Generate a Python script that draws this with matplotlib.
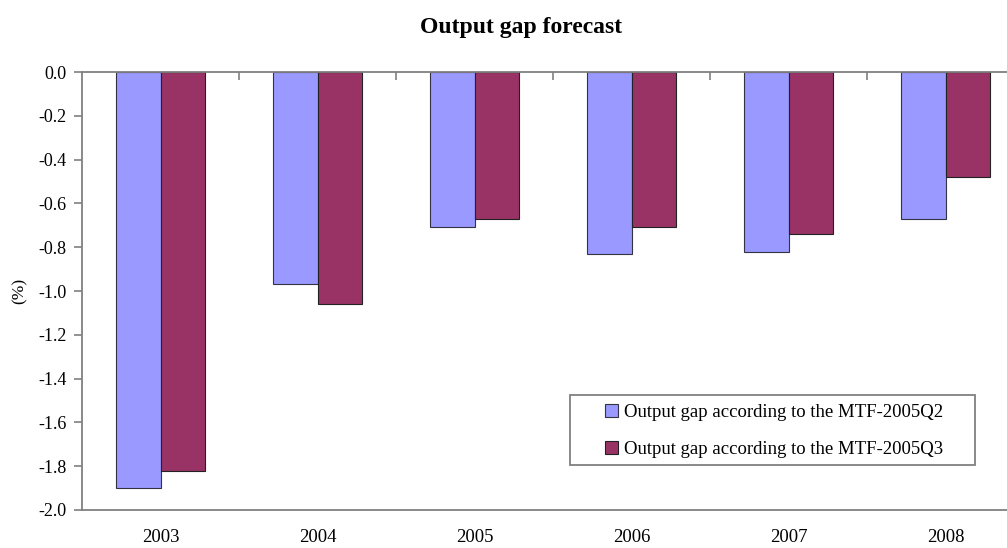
import numpy as np
import matplotlib.pyplot as plt
from matplotlib.patches import Rectangle

years = ['2003', '2004', '2005', '2006', '2007', '2008']
gap_q2 = [-1.90, -0.97, -0.71, -0.83, -0.82, -0.67]
gap_q3 = [-1.82, -1.06, -0.67, -0.71, -0.74, -0.48]
label_q2 = 'Output gap according to the MTF-2005Q2'
label_q3 = 'Output gap according to the MTF-2005Q3'

plt.rcParams['font.family'] = ['Liberation Serif', 'DejaVu Serif']

W, H = 1007, 548
fig = plt.figure(figsize=(W / 100, H / 100), dpi=100)
# plot area: left edge at 82px, top at 72px, bottom at 510px, runs past the right border
ax = fig.add_axes([82 / W, (H - 510) / H, (1024 - 82) / W, (510 - 72) / H])

x = np.arange(len(years))
bw = 0.285
ax.bar(x - bw / 2, gap_q2, bw, color='#9999ff', edgecolor='#333344', linewidth=0.8, label=label_q2)
ax.bar(x + bw / 2, gap_q3, bw, color='#993366', edgecolor='#222222', linewidth=0.8, label=label_q3)

ax.set_xlim(-0.5, len(years) - 0.5)
ax.set_ylim(-2.0, 0.0)
yt = np.round(np.arange(-2.0, 0.01, 0.2), 1)
ax.set_yticks(yt)
ax.set_yticklabels(['%.1f' % abs(v) if v == 0 else '%.1f' % v for v in yt], fontsize=13)

# category labels at the bottom, separator ticks on the zero line
ax.set_xticks(x)
ax.set_xticklabels(years, fontsize=13.5)
ax.tick_params(axis='x', length=0, pad=14)
ax.set_xticks(np.arange(0.5, len(years) - 0.5), minor=True)
ax.tick_params(axis='x', which='minor', top=True, bottom=False, direction='in', length=6,
               color='#808080', width=1.2)
ax.tick_params(axis='y', direction='out', length=6, color='#808080', width=1.2, pad=5)

for s in ['left', 'top', 'bottom']:
    ax.spines[s].set_color('#808080')
    ax.spines[s].set_linewidth(1.3)
ax.spines['right'].set_visible(False)

ax.set_ylabel('(%)', fontsize=12.5, labelpad=8)
fig.text(521 / W, 1 - 28 / H, 'Output gap forecast', ha='center', va='center',
         fontsize=17, fontweight='bold')

# legend box drawn separately so the inner padding can be set freely
box = Rectangle((570 / W, 1 - 465 / H), (975 - 570) / W, 70 / H,
                transform=fig.transFigure, facecolor='white',
                edgecolor='#808080', linewidth=1.3, zorder=4, clip_on=False)
ax.add_patch(box)
leg = ax.legend(loc='upper left', bbox_to_anchor=(601 / W, 1 - 400 / H),
                bbox_transform=fig.transFigure, fontsize=13.5, handlelength=0.7,
                handleheight=0.7, handletextpad=0.3, labelspacing=1.05, borderpad=0.2,
                borderaxespad=0, frameon=False)
leg.set_zorder(6)

fig.savefig('out.png', dpi=100)
